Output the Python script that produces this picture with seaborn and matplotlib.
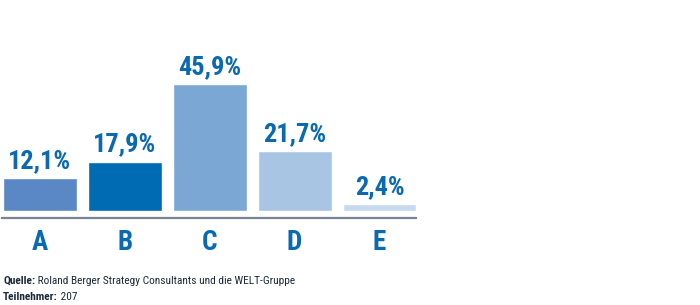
import matplotlib
matplotlib.use("Agg")
import matplotlib.pyplot as plt
import seaborn as sns
import pandas as pd

categories = ["A", "B", "C", "D", "E"]
values = [12.1, 17.9, 45.9, 21.7, 2.4]
labels = ["12,1%", "17,9%", "45,9%", "21,7%", "2,4%"]
colors = ["#5a88c4", "#006bb3", "#7ba7d4", "#a9c5e4", "#c7d9ef"]
source_label = "Quelle:"
source_text = " Roland Berger Strategy Consultants und die WELT-Gruppe"
participants_label = "Teilnehmer:"
participants_text = " 207"

sns.set_theme(style="white")
plt.rcParams['font.family'] = ['Roboto Condensed', 'Liberation Sans', 'DejaVu Sans']

df = pd.DataFrame({"cat": categories, "val": values})

fig = plt.figure(figsize=(7, 3.05), dpi=100)
ax = fig.add_axes([2/700, 87/305, 414/700, 178/305])
sns.barplot(data=df, x="cat", y="val", hue="cat", palette=colors, width=0.87,
            legend=False, ax=ax, saturation=1)
ax.set_xlim(-0.447, 4.43)
ax.set_ylim(-2.5, 61.8)
for s in ["top", "right", "left"]:
    ax.spines[s].set_visible(False)
ax.spines["bottom"].set_color("#7b8391")
ax.spines["bottom"].set_linewidth(1.6)
ax.set_yticks([])
ax.set_xlabel("")
ax.set_ylabel("")
ax.tick_params(axis="x", length=0, pad=8, labelsize=19.5, labelcolor="#0a69b0")
for t in ax.get_xticklabels():
    t.set_fontweight("bold")
for i, (v, lab) in enumerate(zip(values, labels)):
    ax.annotate(lab, (i, v), xytext=(0, 3.5), textcoords="offset points",
                ha="center", va="bottom", fontsize=19, fontweight="bold",
                color="#0a69b0")

foot_color = "#1b2a3b"
t1 = fig.text(3/700, 1 - 286/305, source_label, fontsize=8.2, fontweight="bold",
              color=foot_color, va="bottom")
ax.annotate(source_text, xy=(1, 0), xycoords=t1, fontsize=8.2, color=foot_color,
            va="bottom", ha="left", annotation_clip=False)
t2 = fig.text(3/700, 1 - 302/305, participants_label, fontsize=8.2, fontweight="bold",
              color=foot_color, va="bottom")
ax.annotate(participants_text, xy=(1, 0), xycoords=t2, fontsize=8.2, color=foot_color,
            va="bottom", ha="left", annotation_clip=False)

fig.savefig("out.png", dpi=100)
